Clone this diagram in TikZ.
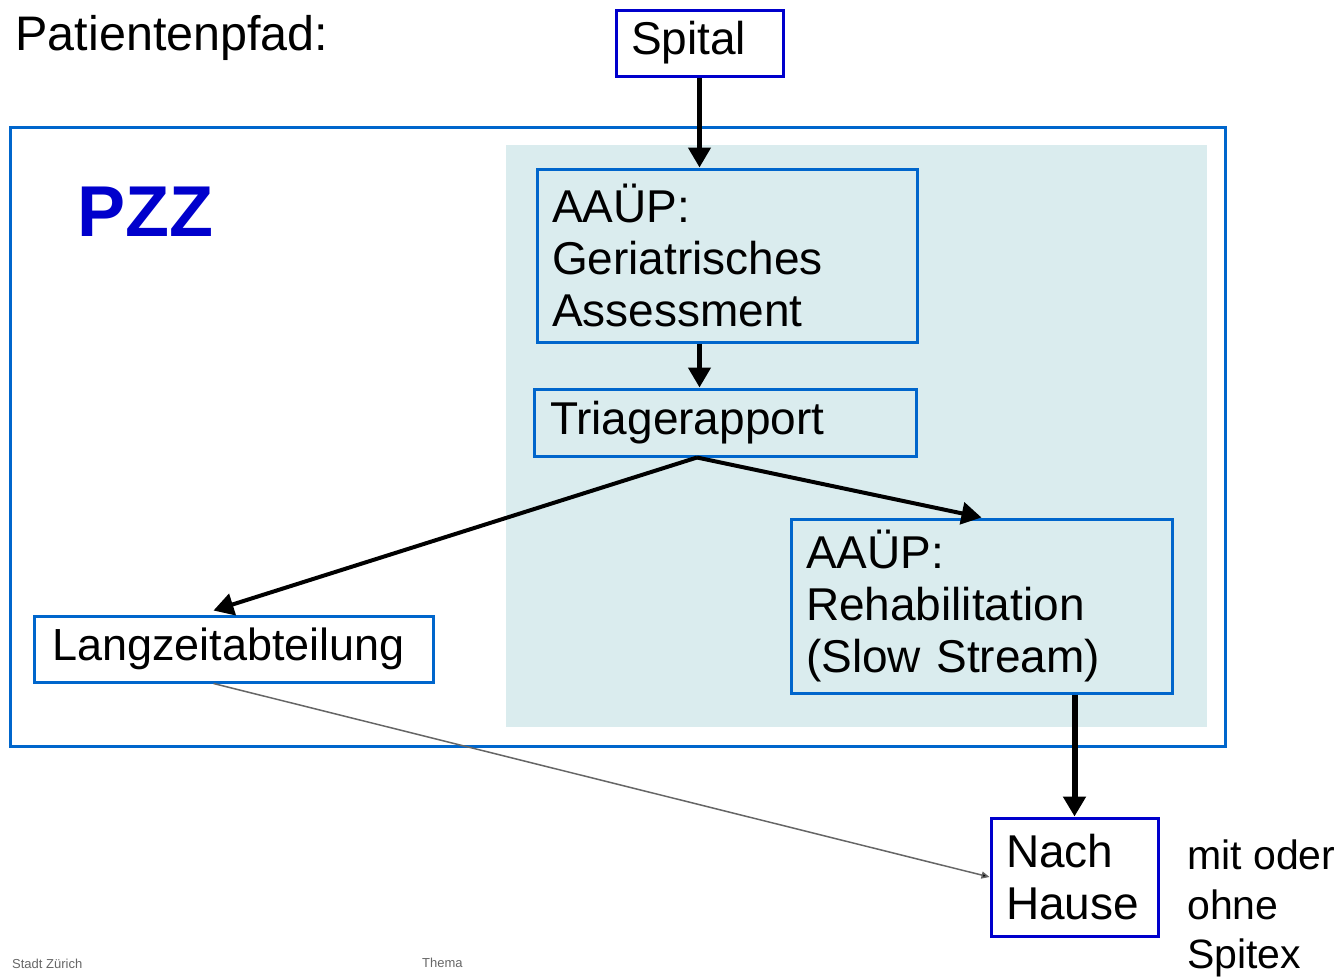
\documentclass[tikz,border=0pt]{standalone}
\usepackage{fontspec}
\setmainfont{Liberation Sans}
\usetikzlibrary{arrows.meta}
\definecolor{dblue}{RGB}{0,0,204}
\definecolor{mblue}{RGB}{0,102,204}
\definecolor{shadefill}{RGB}{218,236,238}
\tikzset{
  big/.style={font=\fontsize{46}{52}\selectfont},
  darkbox/.style={draw=dblue, line width=3pt, fill=white, big, align=left, inner sep=0pt},
  bluebox/.style={draw=mblue, line width=3pt, big, align=left, inner sep=0pt},
  arr/.style={line width=4.5pt, -{Triangle[length=20pt,width=22pt]}},
  thinarr/.style={draw=black!60, line width=1.5pt, -{Triangle[length=8pt,width=7pt,fill=black]}},
}
\begin{document}
\begin{tikzpicture}[x=1pt,y=-1pt]
\useasboundingbox (0,0) rectangle (1343,977);
\node[anchor=base west, font=\fontsize{48.5}{52}\selectfont] (title) at (12,50) {Patientenpfad:};
\node[draw=mblue, line width=3pt, minimum width=1215pt, minimum height=619pt, inner sep=0pt] (pzz) at (617.5,436.5) {};
\node[fill=shadefill, minimum width=701pt, minimum height=582pt, inner sep=0pt] (shade) at (856.5,436) {};
\node[anchor=base west, text=dblue, font=\bfseries\fontsize{72}{72}\selectfont] (pzzlabel) at (74,236) {PZZ};
\node[darkbox, minimum width=167pt, minimum height=66pt, text width=137pt] (spital) at (699.5,43) {Spital};
\node[bluebox, minimum width=380pt, minimum height=173pt, text width=350pt] (geri) at (727,255.5) {AAÜP:\\Geriatrisches\\Assessment};
\node[bluebox, minimum width=382pt, minimum height=67pt, text width=350pt] (triage) at (725,422.5) {Triagerapport};
\node[bluebox, fill=white, minimum width=399pt, minimum height=66pt, text width=363pt, font=\fontsize{45}{52}\selectfont] (lang) at (233.5,649) {Langzeitabteilung};
\node[bluebox, minimum width=381pt, minimum height=174pt, text width=351pt] (rehab) at (981.5,606) {AAÜP:\\Rehabilitation\\(Slow Stream)};
\node[darkbox, minimum width=167pt, minimum height=118pt, text width=137pt] (home) at (1074.5,877) {Nach\\Hause};
\node[anchor=north west, font=\fontsize{41}{49.5}\selectfont, align=left, inner sep=0pt] (spitex) at (1187,840) {mit oder\\ohne\\Spitex};
\node[anchor=base west, text=black!60, font=\fontsize{13}{13}\selectfont, inner sep=0pt] (stadt) at (12,968) {Stadt Zürich};
\node[anchor=base west, text=black!60, font=\fontsize{13}{13}\selectfont, inner sep=0pt] (thema) at (422,967) {Thema};
\draw[arr] (spital.south) -- (spital.south |- geri.north);
\draw[arr] (geri.south -| spital.south) -- (triage.north -| spital.south);
\coordinate (tb) at ([xshift=-28pt]triage.south);
\draw[arr, line width=4pt] (tb) -- ([xshift=-20pt,yshift=4pt]lang.north);
\draw[arr, line width=4pt] (tb) -- (rehab.north);
\draw[arr, line width=6pt] (rehab.south -| home.north) -- (home.north);
\draw[thinarr] ([xshift=-20pt]lang.south) -- (home.west);
\end{tikzpicture}
\end{document}
